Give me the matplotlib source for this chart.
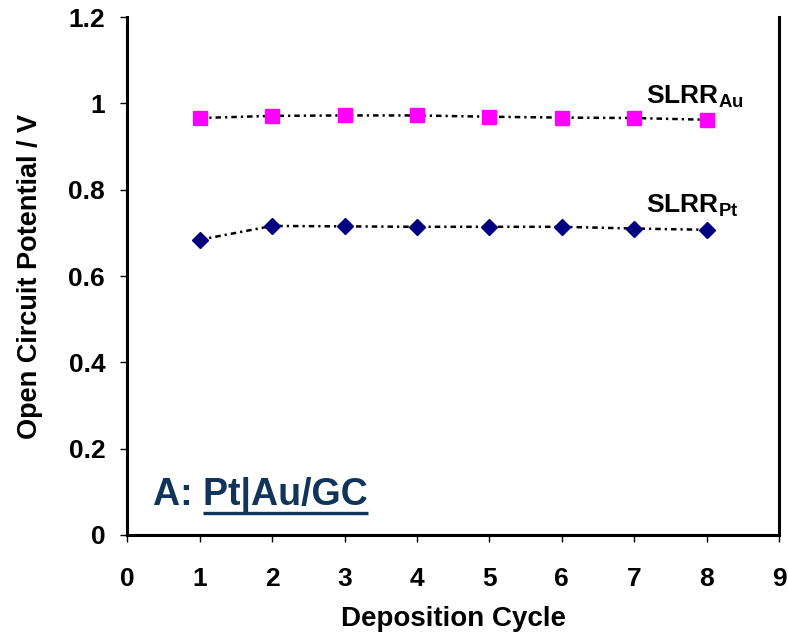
import numpy as np
import matplotlib
matplotlib.use("Agg")
import matplotlib.pyplot as plt
from matplotlib.ticker import FormatStrFormatter

plt.rcParams['font.family'] = ['Liberation Sans', 'DejaVu Sans']
plt.rcParams['font.weight'] = 'bold'
plt.rcParams['mathtext.fontset'] = 'custom'
plt.rcParams['mathtext.rm'] = 'Liberation Sans:bold'
plt.rcParams['mathtext.bf'] = 'Liberation Sans:bold'

# data
cycles = [1, 2, 3, 4, 5, 6, 7, 8]
ocp_au = [0.966, 0.971, 0.972, 0.972, 0.969, 0.967, 0.966, 0.962]
ocp_pt = [0.684, 0.716, 0.715, 0.714, 0.714, 0.714, 0.710, 0.707]
xticks = [0, 1, 2, 3, 4, 5, 6, 7, 8, 9]
yticks = [0, 0.2, 0.4, 0.6, 0.8, 1.0, 1.2]

fig = plt.figure(figsize=(7.88, 6.35), dpi=100)
ax = fig.add_axes([0.1617, 0.1575, 0.8268, 0.8157])

dash = (0, (2.2, 1.6, 0.9, 1.6))
ax.plot(cycles, ocp_au, color='k', lw=1.8, linestyle=dash, zorder=2)
ax.plot(cycles, ocp_pt, color='k', lw=1.8, linestyle=dash, zorder=2)
ax.plot(cycles, ocp_au, linestyle='none', marker='s', ms=9.5,
        mfc='#ff00ff', mec='#ff00ff', zorder=3)
ax.plot(cycles, ocp_pt, linestyle='none', marker='D', ms=7.8,
        mfc='#000080', mec='#000080', zorder=3)

ax.set_xlim(0, 9)
ax.set_ylim(0, 1.2)
ax.set_xticks(xticks)
ax.set_yticks(yticks)
ax.yaxis.set_major_formatter(FormatStrFormatter('%g'))

for s in ['left', 'bottom', 'right']:
    ax.spines[s].set_linewidth(2.2)
ax.spines['top'].set_visible(False)
ax.tick_params(axis='both', direction='out', length=5, width=1,
               labelsize=19)
ax.tick_params(axis='x', pad=18)
ax.tick_params(axis='y', pad=11)

ax.set_xlabel('Deposition Cycle', fontsize=20, fontweight='bold', labelpad=11)
ax.set_ylabel('Open Circuit Potential / V', fontsize=19.5, fontweight='bold',
              labelpad=18)

ax.text(7.16, 1.0, r'SLRR$_{\mathbf{Au}}$', fontsize=19, fontweight='bold',
        va='baseline', ha='left')
ax.text(7.16, 0.746, r'SLRR$_{\mathbf{Pt}}$', fontsize=19, fontweight='bold',
        va='baseline', ha='left')

# panel label with underlined part
navy = '#10345a'
full = ax.text(0.35, 0.0695, 'A: Pt|Au/GC', fontsize=27, fontweight='bold',
               color=navy, va='baseline', ha='left')
pre = ax.text(0.35, 0.0695, 'A: ', fontsize=27, fontweight='bold',
              color=navy, va='baseline', ha='left', alpha=0)
fig.canvas.draw()
r = fig.canvas.get_renderer()
inv = ax.transData.inverted()
bf = full.get_window_extent(r)
bp = pre.get_window_extent(r)
x0 = inv.transform((bp.x1, 0))[0]
x1 = inv.transform((bf.x1, 0))[0]
ax.plot([x0, x1], [0.052, 0.052], color=navy, lw=2.4, solid_capstyle='butt')

fig.savefig('out.png', dpi=100)
